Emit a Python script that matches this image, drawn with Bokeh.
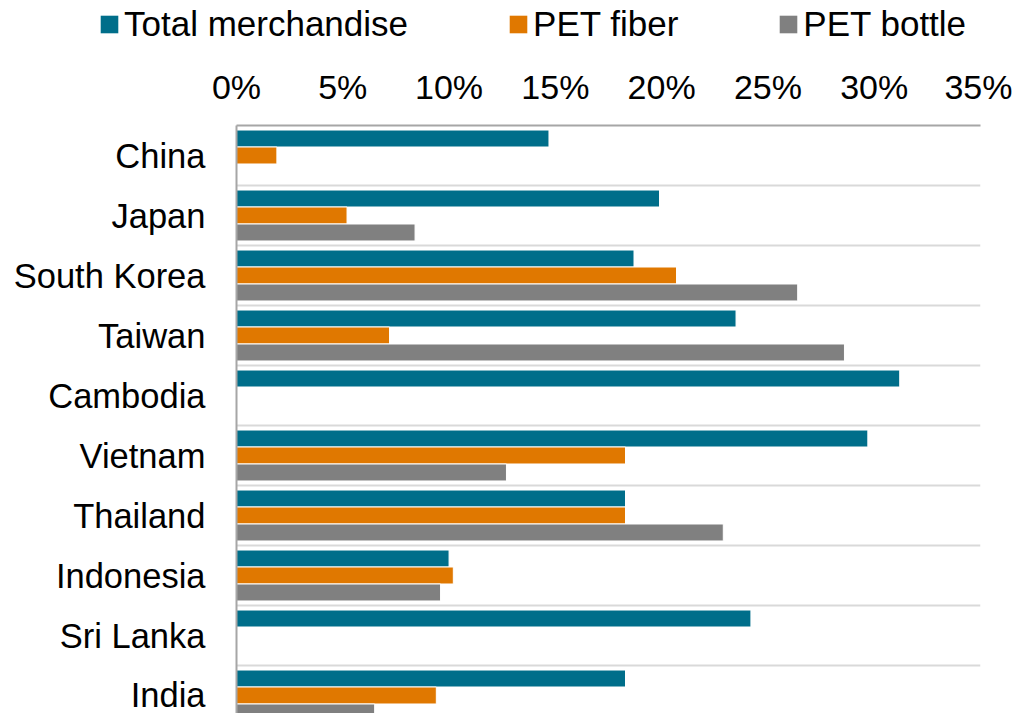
from bokeh.plotting import figure
from bokeh.models import Range1d, FixedTicker, PrintfTickFormatter, Legend, LegendItem, ColumnDataSource
from bokeh.embed import file_html
from bokeh.resources import INLINE

countries = ["China", "Japan", "South Korea", "Taiwan", "Cambodia",
             "Vietnam", "Thailand", "Indonesia", "Sri Lanka", "India"]
total_merchandise = [14.7, 19.9, 18.7, 23.5, 31.2, 29.7, 18.3, 10.0, 24.2, 18.3]
pet_fiber = [1.9, 5.2, 20.7, 7.2, None, 18.3, 18.3, 10.2, None, 9.4]
pet_bottle = [None, 8.4, 26.4, 28.6, None, 12.7, 22.9, 9.6, None, 6.5]
series_names = ["Total merchandise", "PET fiber", "PET bottle"]
series_colors = ["#006E8A", "#E07800", "#808080"]
x_ticks = [0, 5, 10, 15, 20, 25, 30, 35]

FONT = "Liberation Sans"
FS = "34px"

offsets = [-0.283, 0.0, 0.283]
sources = []
for vals, off in zip([total_merchandise, pet_fiber, pet_bottle], offsets):
    ys, xs = [], []
    for i, v in enumerate(vals):
        if v is not None:
            ys.append(i + off)
            xs.append(v)
    sources.append(ColumnDataSource(dict(y=ys, right=xs)))

# ---------- legend strip (own root, frame = whole canvas) ----------
leg_fig = figure(width=1012, height=50, output_backend="svg", toolbar_location=None,
                 x_axis_location=None, y_axis_location=None,
                 x_range=Range1d(0, 35), y_range=Range1d(9.3, -0.5),
                 min_border=0)
leg_fig.outline_line_color = None
leg_fig.grid.visible = False
leg_items = []
for src, name, color in zip(sources, series_names, series_colors):
    r = leg_fig.hbar(y="y", right="right", left=0, height=0.283, source=src,
                     fill_color=color, line_color=None)
    r.visible = False
    leg_items.append(LegendItem(label=name, renderers=[r]))

legend = Legend(items=leg_items, orientation="horizontal", location=(98, 6))
legend.label_text_font = FONT
legend.label_text_font_size = "35px"
legend.label_text_color = "black"
legend.glyph_width = 22
legend.glyph_height = 22
legend.label_standoff = 4
legend.spacing = 99
legend.padding = 0
legend.margin = 0
legend.border_line_color = None
legend.background_fill_alpha = 0
legend.click_policy = "none"
leg_fig.add_layout(legend)

# ---------- main chart ----------
p = figure(width=1012, height=663, output_backend="svg", toolbar_location=None,
           x_range=Range1d(0, 35), y_range=Range1d(9.3, -0.5),
           x_axis_location="above",
           min_border_left=236, min_border_top=75, min_border_right=32, min_border_bottom=0)
p.outline_line_color = None
p.background_fill_color = "white"

for src, color in zip(sources, series_colors):
    p.hbar(y="y", right="right", left=0, height=0.283, source=src,
           fill_color=color, line_color="white", line_width=1)

xa = p.xaxis[0]
xa.ticker = FixedTicker(ticks=x_ticks)
xa.formatter = PrintfTickFormatter(format="%d%%")
xa.major_label_text_font = FONT
xa.major_label_text_font_size = FS
xa.major_label_text_color = "black"
xa.major_tick_out = 0
xa.major_tick_in = 0
xa.minor_tick_out = 0
xa.minor_tick_in = 0
xa.axis_line_color = "#A6A6A6"
xa.axis_line_width = 2
xa.major_label_standoff = 20

ya = p.yaxis[0]
ya.ticker = FixedTicker(ticks=list(range(len(countries))))
ya.major_label_overrides = {i: c for i, c in enumerate(countries)}
ya.major_label_text_font = FONT
ya.major_label_text_font_size = "34.5px"
ya.major_label_text_color = "black"
ya.major_tick_out = 0
ya.major_tick_in = 0
ya.minor_tick_out = 0
ya.minor_tick_in = 0
ya.axis_line_color = "#A6A6A6"
ya.axis_line_width = 2
ya.major_label_standoff = 31

p.xgrid.visible = False
p.ygrid.ticker = FixedTicker(ticks=[i + 0.5 for i in range(len(countries) - 1)])
p.ygrid.grid_line_color = "#D9D9D9"
p.ygrid.grid_line_width = 2

open("out.html", "w").write(file_html([leg_fig, p], INLINE))
